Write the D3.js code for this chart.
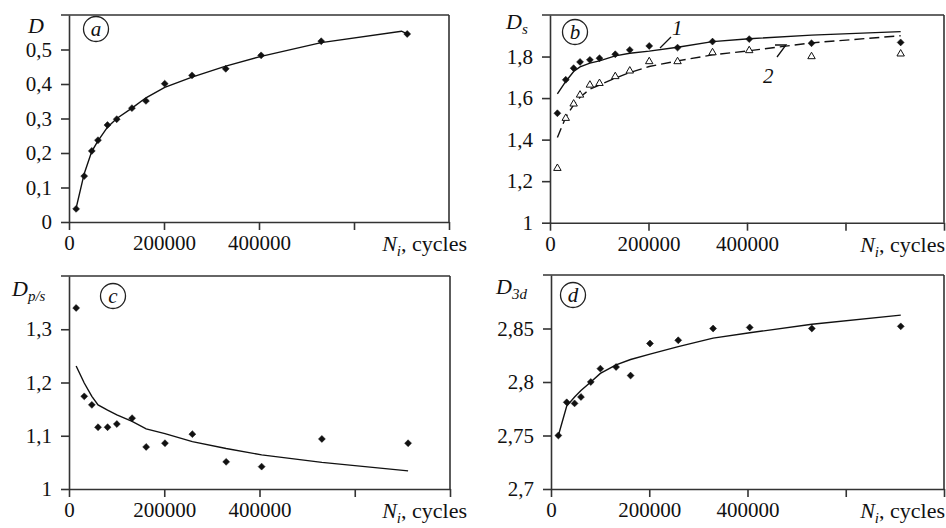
<!DOCTYPE html>
<html>
<head>
<meta charset="utf-8">
<style>
  body { margin: 0; background: #fff; }
  svg text { font-family: "Liberation Serif", "Times New Roman", "Liberation Sans", Arial, sans-serif; fill: #111; }
</style>
<script src="https://cdnjs.cloudflare.com/ajax/libs/d3/7.8.5/d3.min.js"></script>
</head>
<body>
<script>
// ---- data ----
var cycles = [15000, 32000, 48000, 61000, 81000, 100500, 132500, 162000, 201500, 259000, 330000, 404500, 531000, 712000];

// (a) D
var damageD = [0.038, 0.133, 0.206, 0.237, 0.281, 0.298, 0.330, 0.351, 0.401, 0.425, 0.444, 0.483, 0.524, 0.545];
var fitCyclesA = [15000, 32000, 48000, 61000, 81000, 100500, 132500, 162000, 201500, 259000, 330000, 404500, 531000, 700000, 712000];
var fitA = [0.04, 0.14, 0.205, 0.235, 0.275, 0.30, 0.33, 0.36, 0.39, 0.42, 0.452, 0.48, 0.52, 0.553, 0.545];

// (b) Ds, curve 1 (diamonds) and curve 2 (triangles)
var ds1 = [1.527, 1.688, 1.744, 1.774, 1.784, 1.792, 1.811, 1.832, 1.851, 1.843, 1.872, 1.884, 1.864, 1.868];
var ds2 = [1.262, 1.503, 1.572, 1.615, 1.663, 1.671, 1.704, 1.731, 1.776, 1.776, 1.819, 1.829, 1.80, 1.813];
var fitB1 = [1.62, 1.68, 1.728, 1.75, 1.768, 1.779, 1.803, 1.816, 1.826, 1.845, 1.872, 1.886, 1.903, 1.92];
var fitB2 = [1.41, 1.508, 1.567, 1.604, 1.643, 1.663, 1.696, 1.723, 1.752, 1.779, 1.808, 1.828, 1.866, 1.90];

// (c) Dp/s
var dps = [1.34, 1.174, 1.158, 1.116, 1.116, 1.122, 1.133, 1.079, 1.086, 1.103, 1.051, 1.042, 1.094, 1.086];
var fitC = [1.231, 1.199, 1.174, 1.158, 1.148, 1.139, 1.127, 1.113, 1.104, 1.089, 1.076, 1.064, 1.05, 1.034];

// (d) D3d
var d3d = [2.75, 2.781, 2.78, 2.786, 2.80, 2.8125, 2.814, 2.806, 2.836, 2.839, 2.85, 2.851, 2.85, 2.852];
var fitD = [2.75, 2.7775, 2.786, 2.792, 2.80, 2.808, 2.816, 2.821, 2.826, 2.833, 2.841, 2.846, 2.854, 2.8625];

// ticks
var xTicks = [0, 200000, 400000, 600000, 800000];
var xTickLabels = ['0', '200000', '400000', '', ''];
var yTicksA = [0, 0.1, 0.2, 0.3, 0.4, 0.5];
var yTicksB = [1, 1.2, 1.4, 1.6, 1.8];
var yTicksC = [1, 1.1, 1.2, 1.3];
var yTicksD = [2.7, 2.75, 2.8, 2.85];

var axisColor = '#333';
var fontStack = '"Liberation Serif", "Times New Roman", "Liberation Sans", Arial, sans-serif';
var width = 946, height = 528;

var svg = d3.select('body').append('svg')
  .attr('width', width)
  .attr('height', height);

function commaFmt(d) { return String(d).replace('.', ','); }

function zipXY(xs, ys) {
  return xs.map(function(v, i) { return [v, ys[i]]; });
}

function drawPanel(p) {
  var x = d3.scaleLinear().domain([0, 800000]).range([p.left, p.right]);
  var y = d3.scaleLinear().domain(p.yDomain).range([p.bottom, p.top]);
  var g = svg.append('g').attr('font-family', fontStack);

  // frame: top and right edges
  g.append('line')
    .attr('x1', p.left - 8).attr('x2', p.right)
    .attr('y1', p.top).attr('y2', p.top)
    .attr('stroke', axisColor).attr('stroke-width', 1.6);
  g.append('line')
    .attr('x1', p.right).attr('x2', p.right)
    .attr('y1', p.top).attr('y2', p.bottom)
    .attr('stroke', axisColor).attr('stroke-width', 1.6);

  var xAxis = g.append('g')
    .attr('transform', 'translate(0,' + p.bottom + ')')
    .call(d3.axisBottom(x)
      .tickValues(xTicks)
      .tickSize(8).tickSizeOuter(0).tickPadding(5)
      .tickFormat(function(d, i) { return xTickLabels[i]; }));

  var yAxis = g.append('g')
    .attr('transform', 'translate(' + p.left + ',0)')
    .call(d3.axisLeft(y)
      .tickValues(p.yTicks)
      .tickSize(8).tickSizeOuter(0).tickPadding(9)
      .tickFormat(commaFmt));

  [xAxis, yAxis].forEach(function(ax) {
    ax.attr('font-family', fontStack).attr('font-size', 21);
    ax.select('.domain').attr('stroke', axisColor).attr('stroke-width', 1.6);
    ax.selectAll('.tick line').attr('stroke', axisColor).attr('stroke-width', 1.6);
    ax.selectAll('.tick text').attr('fill', '#111');
  });

  // x axis title: N_i, cycles
  var xt = g.append('text')
    .attr('x', p.xTitleX).attr('y', p.bottom + 29)
    .attr('text-anchor', 'end')
    .attr('font-size', 22);
  xt.append('tspan').attr('font-style', 'italic').text('N');
  xt.append('tspan').attr('font-style', 'italic').attr('font-size', 15).attr('dy', 5).text('i');
  xt.append('tspan').attr('dy', -5).text(', cycles');

  // y axis title
  var yt = g.append('text')
    .attr('x', p.yTitleX).attr('y', p.yTitleY)
    .attr('font-size', 22).attr('font-style', 'italic');
  yt.append('tspan').text('D');
  if (p.yTitleSub) {
    yt.append('tspan').attr('dy', 5).attr('font-size', 15).text(p.yTitleSub);
  }

  // panel letter in a circle
  g.append('circle')
    .attr('cx', p.tagX).attr('cy', p.tagY).attr('r', 12.5)
    .attr('fill', 'none').attr('stroke', '#222').attr('stroke-width', 1.3);
  g.append('text')
    .attr('x', p.tagX).attr('y', p.tagY + 7)
    .attr('text-anchor', 'middle')
    .attr('font-size', 21).attr('font-style', 'italic')
    .text(p.tag);

  var line = d3.line()
    .x(function(d) { return x(d[0]); })
    .y(function(d) { return y(d[1]); });

  p.curves.forEach(function(c) {
    g.append('path')
      .datum(zipXY(c.xs, c.ys))
      .attr('d', line)
      .attr('fill', 'none')
      .attr('stroke', '#111')
      .attr('stroke-width', 1.4)
      .attr('stroke-dasharray', c.dashed ? '10,5' : null);
  });

  p.points.forEach(function(s) {
    var sym = s.open
      ? d3.symbol().type(d3.symbolTriangle).size(24)
      : d3.symbol().type(d3.symbolSquare).size(24);
    g.selectAll(null)
      .data(zipXY(cycles, s.ys))
      .enter().append('path')
      .attr('d', sym)
      .attr('transform', function(d) {
        return 'translate(' + x(d[0]) + ',' + y(d[1]) + ')' + (s.open ? '' : ' rotate(45)');
      })
      .attr('fill', s.open ? '#fff' : '#111')
      .attr('stroke', '#111')
      .attr('stroke-width', s.open ? 1 : 0.5);
  });

  return { x: x, y: y, g: g };
}

drawPanel({
  left: 69, right: 449, top: 15, bottom: 222,
  yDomain: [0, 0.6], yTicks: yTicksA,
  xTitleX: 467, yTitleX: 28, yTitleY: 33, yTitleSub: null,
  tag: 'a', tagX: 96, tagY: 29,
  curves: [{ xs: fitCyclesA, ys: fitA }],
  points: [{ ys: damageD }]
});

var pb = drawPanel({
  left: 550, right: 944, top: 15, bottom: 222.7,
  yDomain: [1, 2], yTicks: yTicksB,
  xTitleX: 945, yTitleX: 506, yTitleY: 29, yTitleSub: 's',
  tag: 'b', tagX: 575, tagY: 32,
  curves: [{ xs: cycles, ys: fitB1 }, { xs: cycles, ys: fitB2, dashed: true }],
  points: [{ ys: ds1 }, { ys: ds2, open: true }]
});

// curve numbers with leader strokes in panel (b)
pb.g.append('text').attr('x', 672).attr('y', 35)
  .attr('font-size', 21).attr('font-style', 'italic').text('1');
pb.g.append('path').attr('d', 'M660,48L671,37')
  .attr('stroke', '#111').attr('stroke-width', 1.3).attr('fill', 'none');
pb.g.append('text').attr('x', 763).attr('y', 83)
  .attr('font-size', 21).attr('font-style', 'italic').text('2');
pb.g.append('path').attr('d', 'M775,45L786,45L777,57')
  .attr('stroke', '#111').attr('stroke-width', 1.3).attr('fill', 'none');

drawPanel({
  left: 69, right: 450, top: 276, bottom: 489,
  yDomain: [1, 1.4], yTicks: yTicksC,
  xTitleX: 467, yTitleX: 12, yTitleY: 296, yTitleSub: 'p/s',
  tag: 'c', tagX: 113, tagY: 296,
  curves: [{ xs: cycles, ys: fitC }],
  points: [{ ys: dps }]
});

drawPanel({
  left: 551, right: 944, top: 275, bottom: 489,
  yDomain: [2.7, 2.9], yTicks: yTicksD,
  xTitleX: 945, yTitleX: 496, yTitleY: 294, yTitleSub: '3d',
  tag: 'd', tagX: 573, tagY: 295,
  curves: [{ xs: cycles, ys: fitD }],
  points: [{ ys: d3d }]
});
</script>
</body>
</html>
